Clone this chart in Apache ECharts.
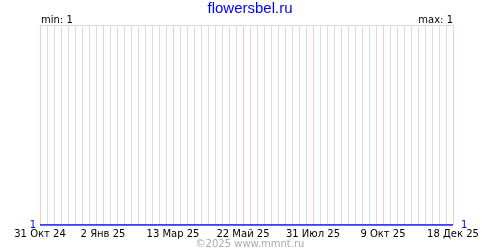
<!DOCTYPE html>
<html><head><meta charset="utf-8">
<script src="https://cdn.jsdelivr.net/npm/echarts@6/dist/echarts.min.js"></script>
<style>html,body{margin:0;padding:0;background:#fff}#c{width:500px;height:250px}</style>
</head><body><div id="c"></div>
<script>
var titleText = 'flowersbel.ru';
var copyrightText = '©2025 www.mmnt.ru';
var startDate = '2024-10-31';
var endDate = '2025-12-18';
var tickDates = ['2024-10-31','2025-01-02','2025-03-13','2025-05-22','2025-07-31','2025-10-09','2025-12-18'];
var tickLabels = ['31 Окт 24','2 Янв 25','13 Мар 25','22 Май 25','31 Июл 25','9 Окт 25','18 Дек 25'];
var seriesDates = ['2024-10-31','2025-12-18'];
var seriesValues = [1, 1];
var minValue = 1, maxValue = 1;

function dayOf(s){ return Math.round((Date.parse(s+'T00:00:00Z') - Date.parse(startDate+'T00:00:00Z'))/86400000); }
var tickDays = tickDates.map(dayOf);
var labelMap = {};
tickDays.forEach(function(d,i){ labelMap[d] = tickLabels[i]; });
var endDay = dayOf(endDate);
var data = seriesDates.map(function(d,i){ return [dayOf(d), seriesValues[i]]; });

var FONT = 'DejaVu Sans';
var chart = echarts.init(document.getElementById('c'), null, {renderer:'canvas'});
chart.setOption({
  animation:false,
  backgroundColor:'#fff',
  title:[
    {text:titleText, left:'center', top:1, padding:0, textStyle:{color:'#0000ff', fontSize:15, fontWeight:'normal', fontFamily:'Liberation Sans'}},
    {text:'min: ' + minValue, left:41, top:15, padding:0, textStyle:{color:'#000', fontSize:10, fontWeight:'normal', fontFamily:FONT}},
    {text:'max: ' + maxValue, right:47, top:15, padding:0, textStyle:{color:'#000', fontSize:10, fontWeight:'normal', fontFamily:FONT}},
    {text:copyrightText, left:'center', top:239, padding:0, textStyle:{color:'#aaaaaa', fontSize:10, fontWeight:'normal', fontFamily:FONT}}
  ],
  grid:{left:40, right:47, top:25, bottom:25, containLabel:false},
  xAxis:{
    type:'value', min:0, max:endDay, interval:7,
    axisLine:{show:false}, axisTick:{show:false},
    splitLine:{show:true, lineStyle:{color:'#dcdcdc', width:1}},
    axisLabel:{show:true, customValues:tickDays, color:'#000', fontSize:10, fontFamily:FONT, margin:4,
      formatter:function(v){ return labelMap[v] !== undefined ? labelMap[v] : ''; }}
  },
  yAxis:[
    {type:'value', min:1, max:2, interval:1, position:'left',
      axisLine:{show:false}, axisTick:{show:false},
      splitLine:{show:true, lineStyle:{color:'#dcdcdc'}},
      axisLabel:{customValues:[1], color:'#0000ff', fontSize:10, fontFamily:FONT, margin:4, formatter:function(v){return String(seriesValues[0]);}}},
    {type:'value', min:1, max:2, interval:1, position:'right',
      axisLine:{show:false}, axisTick:{show:false}, splitLine:{show:false},
      axisLabel:{customValues:[1], color:'#0000ff', fontSize:10, fontFamily:FONT, margin:8, formatter:function(v){return String(seriesValues[seriesValues.length-1]);}}}
  ],
  series:[{
    type:'line', data:data, showSymbol:false, symbol:'none',
    lineStyle:{color:'#0000ff', width:1.5},
    markLine:{silent:true, symbol:'none', label:{show:false},
      lineStyle:{color:'#ffc8c8', type:'solid', width:1},
      data:tickDays.map(function(d){ return {xAxis:d}; })},
    z:5
  }]
});
</script></body></html>
